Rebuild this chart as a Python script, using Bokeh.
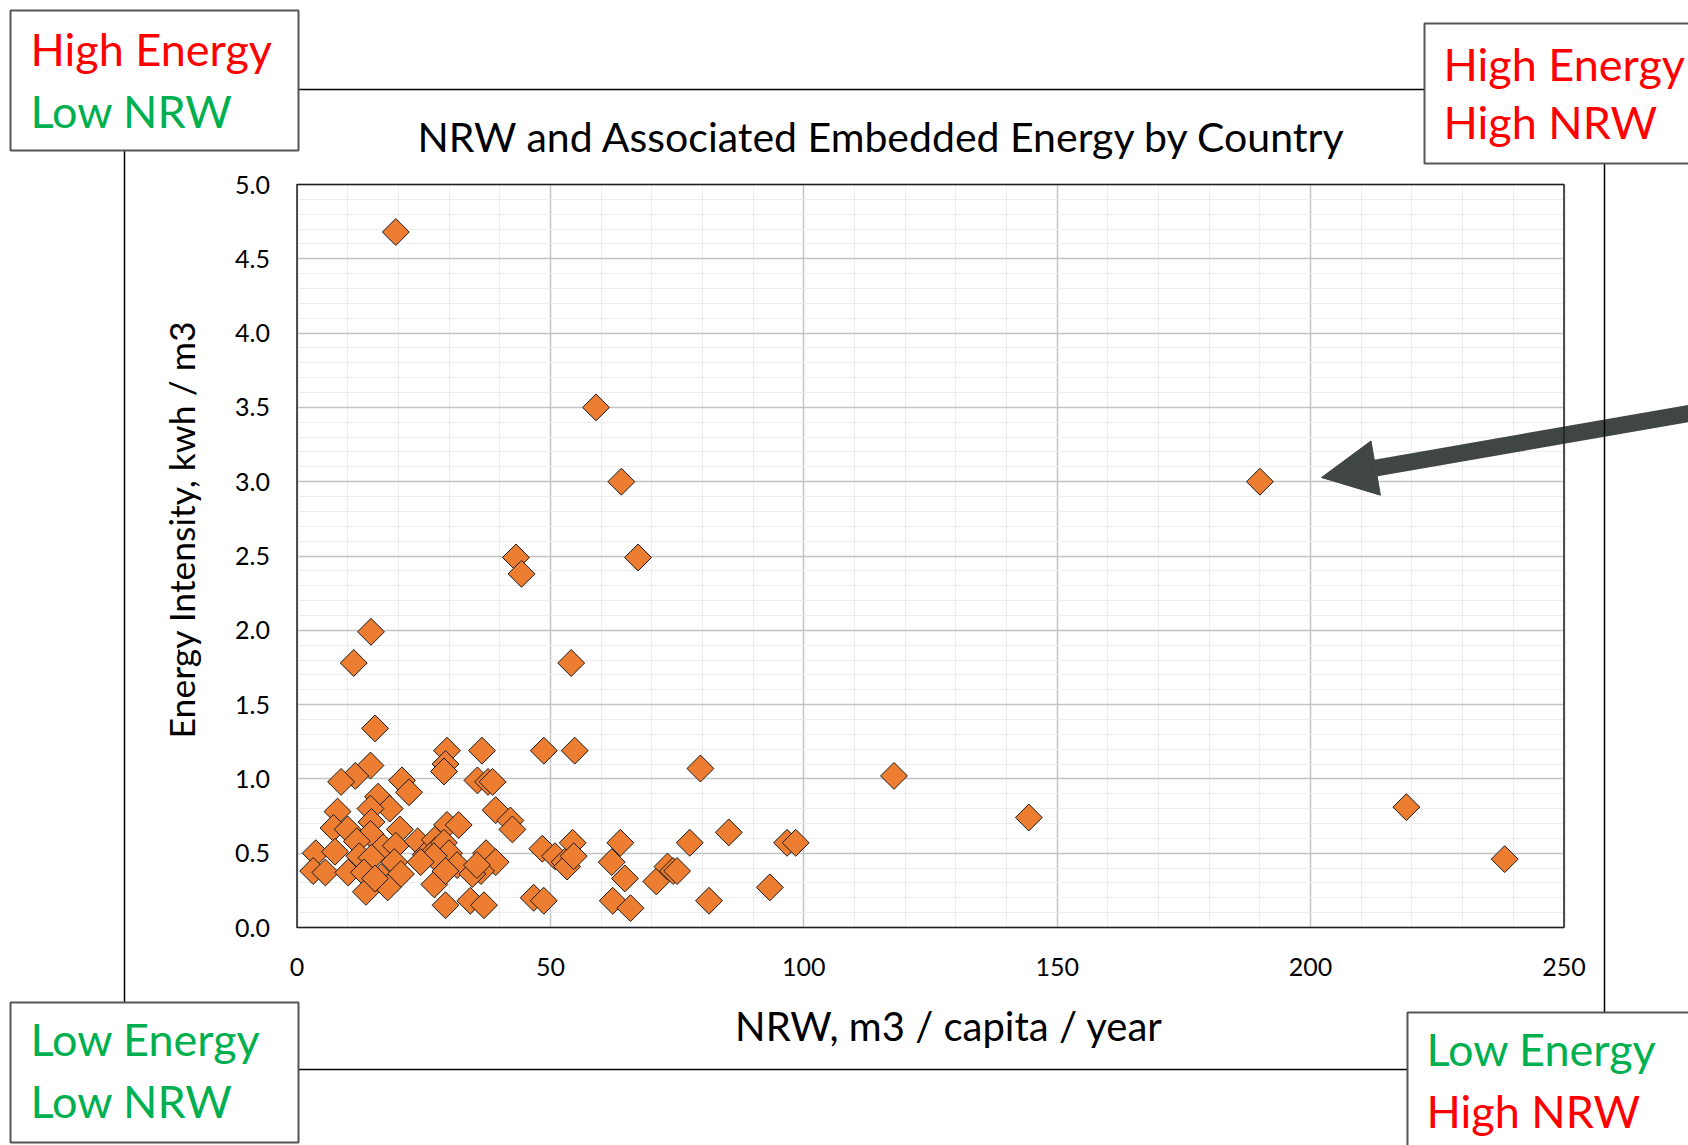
import numpy as np
from bokeh.plotting import figure
from bokeh.models import (Range1d, SingleIntervalTicker, NumeralTickFormatter, BoxAnnotation,
                          Label, Arrow, NormalHead, ColumnDataSource, Grid)
from bokeh.embed import file_html
from bokeh.resources import INLINE

# ---------------- data ----------------
nrw = [19.5, 59.0, 64.0, 190.0, 43.2, 44.3, 67.3, 14.6, 11.2, 54.1,
       15.4, 29.6, 36.5, 48.7, 54.8, 79.6, 117.8, 144.4, 218.9, 238.3,
       14.5, 11.5, 8.7, 29.3, 29.0, 20.7, 22.1, 35.6, 37.7, 38.6,
       16.0, 18.3, 14.5, 8.0, 7.2, 10.0, 14.7, 20.3, 14.5, 11.8,
       17.0, 19.5, 23.8, 3.7, 7.5, 12.3, 14.7, 19.2, 25.4, 3.2,
       5.6, 10.1, 13.2, 16.6, 20.5, 13.6, 17.9, 27.1, 39.2, 42.1,
       42.5, 29.6, 31.9, 27.2, 27.4, 29.0, 30.0, 27.0, 31.6, 29.3,
       37.3, 39.2, 36.3, 34.6, 29.3, 34.2, 36.9, 48.4, 50.9, 52.8,
       53.3, 54.4, 54.6, 46.7, 48.7, 63.8, 62.1, 64.7, 62.3, 65.8,
       77.5, 85.2, 70.9, 73.1, 74.2, 75.0, 81.3, 93.3, 96.7, 98.4,
       24.4, 35.5, 15.4]
energy = [4.68, 3.50, 3.00, 3.00, 2.49, 2.38, 2.49, 1.99, 1.78, 1.78,
          1.34, 1.19, 1.19, 1.19, 1.19, 1.07, 1.02, 0.74, 0.81, 0.46,
          1.09, 1.02, 0.98, 1.10, 1.05, 0.99, 0.91, 0.99, 0.98, 0.98,
          0.88, 0.80, 0.80, 0.78, 0.67, 0.66, 0.71, 0.66, 0.63, 0.58,
          0.54, 0.55, 0.58, 0.50, 0.51, 0.48, 0.47, 0.44, 0.49, 0.38,
          0.37, 0.37, 0.37, 0.34, 0.36, 0.24, 0.27, 0.29, 0.79, 0.72,
          0.66, 0.69, 0.69, 0.59, 0.52, 0.57, 0.50, 0.48, 0.42, 0.38,
          0.50, 0.44, 0.38, 0.36, 0.15, 0.18, 0.15, 0.53, 0.48, 0.44,
          0.41, 0.57, 0.48, 0.20, 0.18, 0.57, 0.44, 0.33, 0.18, 0.13,
          0.57, 0.64, 0.31, 0.41, 0.38, 0.38, 0.18, 0.27, 0.57, 0.57,
          0.44, 0.42, 0.33]

x_limits = (0, 250)
y_limits = (0, 5)
title_text = "NRW and Associated Embedded Energy by Country"
x_label = "NRW, m3 / capita / year"
y_label = "Energy Intensity, kwh / m3"

quadrants = [
    # (line1, color1, line2, color2)
    ("High Energy", "#FF0000", "Low NRW", "#00B050"),
    ("High Energy", "#FF0000", "High NRW", "#FF0000"),
    ("Low Energy", "#00B050", "Low NRW", "#00B050"),
    ("Low Energy", "#00B050", "High NRW", "#FF0000"),
]

FONT = "Lato"
W, H = 1688, 1145
# plot-area placement on the page (pixels)
PL, PR, PT, PB = 296.5, 1563.5, 184.0, 927.0

# the frame covers the whole canvas; ranges chosen so that the data limits land on the plot area
kx = (PR - PL) / (x_limits[1] - x_limits[0])
ky = (PB - PT) / (y_limits[1] - y_limits[0])
xr = Range1d(x_limits[0] - PL / kx, x_limits[1] + (W - PR) / kx)
yr = Range1d(y_limits[0] - (H - PB) / ky, y_limits[1] + PT / ky)

src = ColumnDataSource(dict(nrw=nrw, energy=energy))

p = figure(width=W, height=H, output_backend="svg", toolbar_location=None,
           x_range=xr, y_range=yr, min_border=0)
p.title.visible = False
p.background_fill_color = "white"
p.border_fill_color = "white"
p.outline_line_color = None

p.xaxis.ticker = SingleIntervalTicker(interval=50, num_minor_ticks=5)
p.yaxis.ticker = SingleIntervalTicker(interval=0.5, num_minor_ticks=5)
p.yaxis.formatter = NumeralTickFormatter(format="0.0")
p.xaxis.fixed_location = y_limits[0]
p.yaxis.fixed_location = x_limits[0]
# bounds slightly beyond the last tick so that the axis titles sit where the reference has them
p.xaxis.bounds = (x_limits[0], 257.2)
p.yaxis.bounds = (y_limits[0], 5.356)
for ax in (p.xaxis, p.yaxis):
    ax.axis_line_color = None
    ax.major_tick_line_color = None
    ax.minor_tick_line_color = None
    ax.major_tick_out = 0
    ax.major_tick_in = 0
    ax.minor_tick_out = 0
    ax.major_label_text_font = FONT
    ax.major_label_text_font_size = "25px"
    ax.major_label_text_color = "#000000"
    ax.axis_label_text_font = FONT
    ax.axis_label_text_font_style = "normal"
    ax.axis_label_text_color = "#000000"
p.xaxis.major_label_standoff = 30
p.yaxis.major_label_standoff = 27
p.xaxis.axis_label = x_label
p.yaxis.axis_label = y_label
p.xaxis.axis_label_text_font_size = "40px"
p.yaxis.axis_label_text_font_size = "35.5px"
p.xaxis.axis_label_standoff = 23
p.yaxis.axis_label_standoff = 30

has_cross = "cross_bounds" in Grid.properties()
p.xgrid.bounds = x_limits
p.ygrid.bounds = y_limits
if has_cross:
    p.xgrid.cross_bounds = y_limits
    p.ygrid.cross_bounds = x_limits
    for g in (p.xgrid, p.ygrid):
        g.grid_line_color = "#C4C4C4"
        g.grid_line_width = 1.5
        g.minor_grid_line_color = "#EDEDED"
        g.minor_grid_line_width = 1
else:
    p.grid.visible = False
    xt = np.arange(x_limits[0], x_limits[1] + 1e-9, 10.0)
    yt = np.arange(y_limits[0], y_limits[1] + 1e-9, 0.1)
    xmaj = np.isclose(xt % 50, 0)
    ymaj = np.isclose(np.round(yt * 10) % 5, 0)
    p.segment(x0=xt[~xmaj], x1=xt[~xmaj], y0=y_limits[0], y1=y_limits[1], line_color="#EDEDED", line_width=1)
    p.segment(x0=x_limits[0], x1=x_limits[1], y0=yt[~ymaj], y1=yt[~ymaj], line_color="#EDEDED", line_width=1)
    p.segment(x0=xt[xmaj], x1=xt[xmaj], y0=y_limits[0], y1=y_limits[1], line_color="#C4C4C4", line_width=1.5)
    p.segment(x0=x_limits[0], x1=x_limits[1], y0=yt[ymaj], y1=yt[ymaj], line_color="#C4C4C4", line_width=1.5)

p.scatter(x="nrw", y="energy", source=src, marker="square", angle=np.pi / 4, size=19,
          fill_color="#ED7D31", line_color="#1A1A1A", line_width=1)

# ---------------- decorations ----------------
p.add_layout(Arrow(end=NormalHead(size=55, fill_color="#404545", line_color="#404545"),
                   x_start=1700, y_start=411, x_end=1321, y_end=477,
                   start_units="canvas", end_units="canvas",
                   line_color="#404545", line_width=17))

# plot-area border
p.add_layout(BoxAnnotation(left=x_limits[0], right=x_limits[1], bottom=y_limits[0], top=y_limits[1],
                           fill_alpha=0, line_color="#1E1E1E", line_alpha=1, line_width=1.5))

# chart-area border
p.add_layout(BoxAnnotation(left=124, right=1604, top=89, bottom=1069,
                           left_units="canvas", right_units="canvas",
                           top_units="canvas", bottom_units="canvas",
                           fill_alpha=0, line_color="#000000", line_alpha=1, line_width=1.5))

boxes = [(10, 298, 10, 150), (1424, 1720, 23, 163), (10, 298, 1002, 1142), (1407, 1720, 1012, 1170)]
text_pos = [(30, 48, 110), (1443, 63, 121), (30, 1038, 1100), (1426, 1048, 1110)]
for (l, r, t, b), (tx, b1, b2), (s1, c1, s2, c2) in zip(boxes, text_pos, quadrants):
    p.add_layout(BoxAnnotation(left=l, right=r, top=t, bottom=b,
                               left_units="canvas", right_units="canvas",
                               top_units="canvas", bottom_units="canvas",
                               fill_color="white", fill_alpha=1,
                               line_color="#555555", line_alpha=1, line_width=2))
    for s, c, by in ((s1, c1, b1), (s2, c2, b2)):
        p.add_layout(Label(x=tx, y=by, x_units="canvas", y_units="canvas", text=s,
                           text_color=c, text_font=FONT, text_font_size="45px",
                           text_align="left", text_baseline="alphabetic"))

p.add_layout(Label(x=882, y=136, x_units="canvas", y_units="canvas", text=title_text,
                   text_color="#000000", text_font=FONT, text_font_size="41px",
                   text_align="center", text_baseline="middle"))

open("out.html", "w").write(file_html(p, INLINE))
